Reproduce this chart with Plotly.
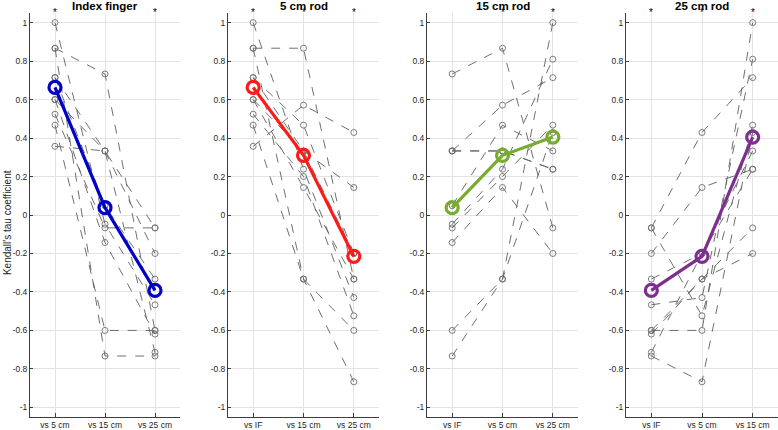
import plotly.graph_objects as go

# Per-subject Kendall tau values for each pair of conditions
if_vs_5 = [0.867, 0.357, 0.6, 0.714, 1.0, 0.524, 0.467, 0.867, 0.6, 0.714]
if_vs_15 = [0.733, 0.333, 0.333, 0.048, -0.048, -0.067, -0.6, -0.733, -0.143, 0.333]
if_vs_25 = [-0.6, -0.067, -0.2, -0.333, -0.467, -0.067, -0.6, -0.733, -0.619, -0.714]
r5_vs_15 = [0.867, 0.571, 0.333, 0.467, 0.238, 0.2, -0.333, -0.333, 0.143, 0.333]
r5_vs_25 = [-0.333, 0.429, 0.143, -0.2, -0.429, -0.524, -0.6, -0.867, -0.333, -0.2]
r15_vs_25 = [-0.067, 0.714, 0.238, 0.333, 0.81, 0.467, 1.0, 0.429, -0.2, 0.238]

# Mean values per panel
mean_if = [0.663, 0.038, -0.392]
mean_5 = [0.663, 0.310, -0.215]
mean_15 = [0.038, 0.310, 0.405]
mean_25 = [-0.392, -0.215, 0.405]

titles = ["Index finger", "5 cm rod", "15 cm rod", "25 cm rod"]
xlabels = [["vs 5 cm", "vs 15 cm", "vs 25 cm"],
           ["vs IF", "vs 15 cm", "vs 25 cm"],
           ["vs IF", "vs 5 cm", "vs 25 cm"],
           ["vs IF", "vs 5 cm", "vs 15 cm"]]
stars = [[1, 3], [1, 2, 3], [2, 3], [1, 2, 3]]
panel_series = [[if_vs_5, if_vs_15, if_vs_25],
                [if_vs_5, r5_vs_15, r5_vs_25],
                [if_vs_15, r5_vs_15, r15_vs_25],
                [if_vs_25, r5_vs_25, r15_vs_25]]
means = [mean_if, mean_5, mean_15, mean_25]
colors = ["#0000c8", "#ff1a1a", "#77ac30", "#7e2f8e"]

yticks = [-1, -0.8, -0.6, -0.4, -0.2, 0, 0.2, 0.4, 0.6, 0.8, 1]
ytext = ["-1", "-0.8", "-0.6", "-0.4", "-0.2", "0", "0.2", "0.4", "0.6", "0.8", "1"]

W = 748.0
domains_px = [(0, 150), (198, 349), (397, 548), (596, 748)]

fig = go.Figure()
font = "Liberation Sans, Arial, sans-serif"
annotations = []
n = len(if_vs_5)
for p in range(4):
    xa = "x" if p == 0 else f"x{p+1}"
    ya = "y" if p == 0 else f"y{p+1}"
    cols = panel_series[p]
    for i in range(n):
        fig.add_trace(go.Scatter(
            x=[1, 2, 3], y=[cols[0][i], cols[1][i], cols[2][i]],
            mode="lines+markers", xaxis=xa, yaxis=ya, showlegend=False,
            line=dict(color="rgb(95,95,95)", width=0.9, dash="dash"),
            marker=dict(symbol="circle-open", size=6, color="rgb(110,110,110)",
                        line=dict(width=0.9)),
            hoverinfo="skip", cliponaxis=False))
    fig.add_trace(go.Scatter(
        x=[1, 2, 3], y=means[p], mode="lines+markers", xaxis=xa, yaxis=ya,
        showlegend=False, line=dict(color=colors[p], width=3.2),
        marker=dict(symbol="circle-open", size=12, color=colors[p],
                    line=dict(width=3.2)), cliponaxis=False))
    d0, d1 = domains_px[p]
    dom = [d0 / W, d1 / W]
    axkey = "xaxis" if p == 0 else f"xaxis{p+1}"
    aykey = "yaxis" if p == 0 else f"yaxis{p+1}"
    fig.update_layout(**{
        axkey: dict(domain=dom, range=[0.5, 3.5], tickvals=[1, 2, 3],
                    ticktext=xlabels[p], anchor=ya, showgrid=True,
                    gridcolor="#e3e3e3", gridwidth=1, zeroline=False,
                    showline=True, linecolor="#3c3c3c", linewidth=1,
                    ticks="inside", ticklen=4, tickcolor="#3c3c3c",
                    tickfont=dict(size=8.5, color="#262626", family=font),
                    fixedrange=True),
        aykey: dict(domain=[0, 1], range=[-1.05, 1.05], tickvals=yticks,
                    ticktext=ytext, anchor=xa, showgrid=True,
                    gridcolor="#e3e3e3", gridwidth=1, zeroline=False,
                    showline=True, linecolor="#3c3c3c", linewidth=1,
                    ticks="inside", ticklen=3, tickcolor="#3c3c3c",
                    tickfont=dict(size=8.5, color="#262626", family=font),
                    fixedrange=True),
    })
    annotations.append(dict(
        text="<b>" + titles[p] + "</b>", xref="paper", yref="paper",
        x=(dom[0] + dom[1]) / 2, y=1, xanchor="center", yanchor="bottom",
        yshift=-1, showarrow=False,
        font=dict(size=11.5, color="#000000", family=font)))
    for s in stars[p]:
        annotations.append(dict(
            text="*", xref=xa, yref="paper", x=s, y=1, xanchor="center",
            yanchor="middle", yshift=1, showarrow=False,
            font=dict(size=10, color="#000000", family=font)))

annotations.append(dict(
    text="Kendall's tau coefficient", xref="paper", yref="paper",
    x=-23 / W, y=0.48, xanchor="center", yanchor="middle", textangle=-90,
    showarrow=False, font=dict(size=10, color="#262626", family=font)))

fig.update_layout(
    width=778, height=430, margin=dict(l=30, r=0, t=13, b=13),
    paper_bgcolor="white", plot_bgcolor="white",
    annotations=annotations, showlegend=False,
    font=dict(family=font),
)

fig.write_html(
    "out.html",
    config={"displayModeBar": False, "staticPlot": True},
    post_script="document.body.style.margin='0';document.body.style.overflow='hidden';",
)
